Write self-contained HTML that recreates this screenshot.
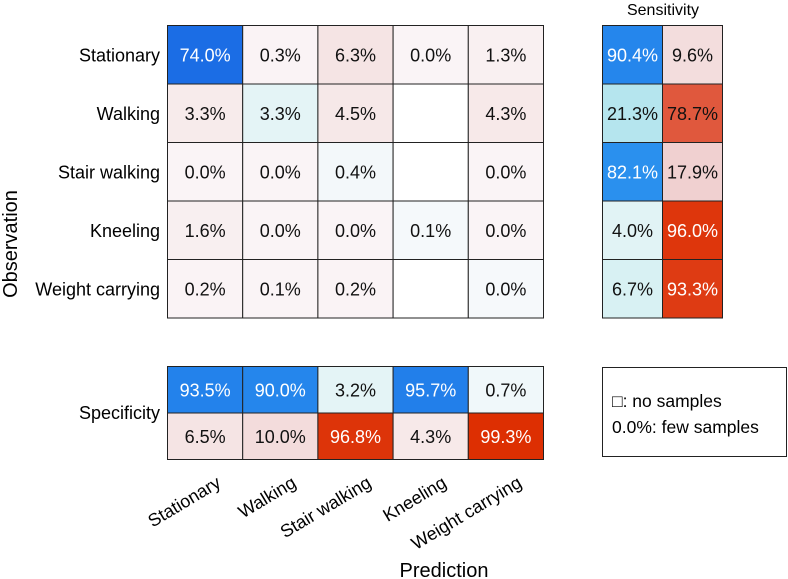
<!DOCTYPE html>
<html><head><meta charset="utf-8"><style>
html,body{margin:0;padding:0;background:#fff;}
svg{display:block;font-family:"Liberation Sans",Arial,sans-serif;}
</style></head><body>
<svg id="chart" width="788" height="579" viewBox="0 0 788 579" xmlns="http://www.w3.org/2000/svg">
<g id="main"></g>
<g id="sens"></g>
<g id="spec"></g>
<g id="labels"></g>
<text x="663" y="15" text-anchor="middle" font-size="16">Sensitivity</text>
<text x="0" y="0" transform="translate(17,244) rotate(-90)" text-anchor="middle" font-size="20">Observation</text>
<text x="444" y="577" text-anchor="middle" font-size="20">Prediction</text>
<text x="160" y="419" text-anchor="end" font-size="18">Specificity</text>
<g>
<rect x="602.5" y="367.5" width="184" height="89" fill="#fff" stroke="#222" stroke-width="1"/>
<text x="612" y="407" font-size="17.5">□: no samples</text>
<text x="612" y="433" font-size="17.5">0.0%: few samples</text>
</g>
</svg>
<script>
const categories = ["Stationary","Walking","Stair walking","Kneeling","Weight carrying"];
const row0 = [74.0,0.3,6.3,0.0,1.3];
const row1 = [3.3,3.3,4.5,null,4.3];
const row2 = [0.0,0.0,0.4,null,0.0];
const row3 = [1.6,0.0,0.0,0.1,0.0];
const row4 = [0.2,0.1,0.2,null,0.0];
const sensHit = [90.4,21.3,82.1,4.0,6.7];
const sensMiss = [9.6,78.7,17.9,96.0,93.3];
const specHit = [93.5,90.0,3.2,95.7,0.7];
const specMiss = [6.5,10.0,96.8,4.3,99.3];
const matrix = [row0,row1,row2,row3,row4];

const NS="http://www.w3.org/2000/svg";
const gx0=167.5, cw=75.2, gy0=25.5, rh=58.5;
const sx0=602.5, scw=60;
const spy0=366.5, sph=46.5;
function colX(i){return gx0+i*cw;}
function rowY(j){return gy0+j*rh;}
function hex(c){return [1,3,5].map(i=>parseInt(c.substr(i,2),16));}
function interp(stops,v){
  for(let i=1;i<stops.length;i++){
    if(v<=stops[i][0]){const a=stops[i-1],b=stops[i];const t=(v-a[0])/(b[0]-a[0]);
      const ca=hex(a[1]),cb=hex(b[1]);return "rgb("+ca.map((x,k)=>Math.round(x+(cb[k]-x)*t)).join(",")+")";}
  }
  return stops[stops.length-1][1];
}
const blueStops=[[0,"#f6f9fb"],[1,"#eef7f9"],[5,"#dcf2f4"],[22,"#b3e4ee"],[50,"#5aa8ee"],[74,"#1b6de5"],[82,"#2a90ee"],[100,"#1f7ae9"]];
const redStops=[[0,"#faf4f6"],[2,"#f8eeee"],[10,"#f3dcdc"],[20,"#efcdcd"],[50,"#e8907c"],[80,"#e0553a"],[100,"#dd2e00"]];
function cell(g,x,y,w,h,v,blue,name){
  const r=document.createElementNS(NS,"rect");
  r.setAttribute("x",x);r.setAttribute("y",y);r.setAttribute("width",w);r.setAttribute("height",h);
  r.setAttribute("fill",v===null?"#fff":interp(blue?blueStops:redStops,v));
  r.setAttribute("stroke","#222");r.setAttribute("stroke-width","1");
  
  
  g.appendChild(r);
  if(v!==null){
    const t=document.createElementNS(NS,"text");
    t.setAttribute("x",x+w/2);t.setAttribute("y",y+h/2+6.5);t.setAttribute("text-anchor","middle");
    t.setAttribute("font-size","18");
    const white = blue ? v>=70 : v>=85;
    t.setAttribute("fill",white?"#fff":"#111");
    t.textContent=v.toFixed(1)+"%";
    
    
    g.appendChild(t);
  }
}
const gm=document.getElementById("main");
matrix.forEach((row,j)=>row.forEach((v,i)=>cell(gm,colX(i),rowY(j),cw,rh,v,i===j,"cell-"+j+"-"+i)));
const gs=document.getElementById("sens");
sensHit.forEach((v,j)=>cell(gs,sx0,rowY(j),scw,rh,v,true,"sensitivity-hit-"+j));
sensMiss.forEach((v,j)=>cell(gs,sx0+scw,rowY(j),scw,rh,v,false,"sensitivity-miss-"+j));
const gp=document.getElementById("spec");
specHit.forEach((v,i)=>cell(gp,colX(i),spy0,cw,sph,v,true,"specificity-hit-"+i));
specMiss.forEach((v,i)=>cell(gp,colX(i),spy0+sph,cw,sph,v,false,"specificity-miss-"+i));
const gl=document.getElementById("labels");
categories.forEach((c,j)=>{
  const t=document.createElementNS(NS,"text");
  t.setAttribute("x",160);t.setAttribute("y",rowY(j)+rh/2+6.5);t.setAttribute("text-anchor","end");t.setAttribute("font-size","18");
  t.textContent=c;
  
  
  gl.appendChild(t);
});
categories.forEach((c,i)=>{
  const t=document.createElementNS(NS,"text");
  const x=colX(i)+cw/2+17, y=486;
  t.setAttribute("transform","translate("+x+","+y+") rotate(-31)");
  t.setAttribute("text-anchor","end");t.setAttribute("font-size","18");
  t.textContent=c;
  
  
  gl.appendChild(t);
});
</script>
</body></html>
